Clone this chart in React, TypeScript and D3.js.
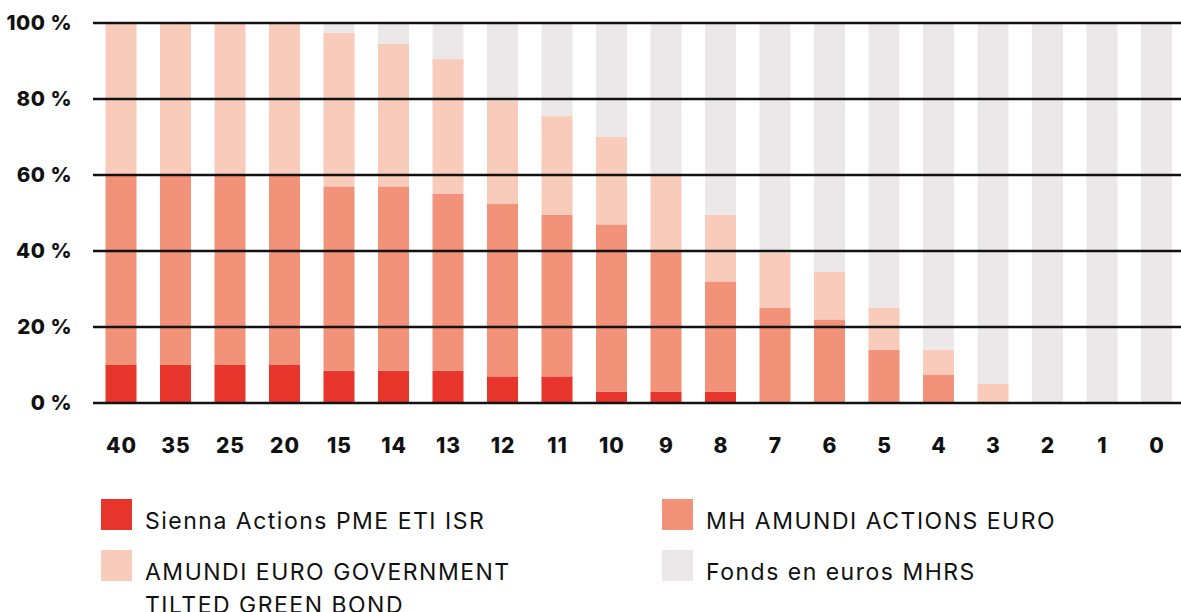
import React from 'react';
import * as d3 from 'd3';

// Horizon in years (x axis)
const horizons = ["40", "35", "25", "20", "15", "14", "13", "12", "11", "10", "9", "8", "7", "6", "5", "4", "3", "2", "1", "0"];

// Share of each fund in %
const sienna = [10, 10, 10, 10, 8.5, 8.5, 8.5, 7, 7, 3, 3, 3, 0, 0, 0, 0, 0, 0, 0, 0];
const mhAmundi = [50, 50, 50, 50, 48.5, 48.5, 46.5, 45.5, 42.5, 44, 37, 29, 25, 22, 14, 7.5, 0, 0, 0, 0];
const amundiGreen = [40, 40, 40, 40, 40.5, 37.5, 35.5, 27, 26, 23, 20, 17.5, 14.5, 12.5, 11, 6.5, 5, 0, 0, 0];
const fondsEuros = [0, 0, 0, 0, 2.5, 5.5, 9.5, 20.5, 24.5, 30, 40, 50.5, 60.5, 65.5, 75, 86, 95, 100, 100, 100];

const yTicks = [0, 20, 40, 60, 80, 100];

const seriesKeys = ["sienna", "mh", "amundi", "fonds"];
const seriesLabels = {
  sienna: ["Sienna Actions PME ETI ISR"],
  mh: ["MH AMUNDI ACTIONS EURO"],
  amundi: ["AMUNDI EURO GOVERNMENT", "TILTED GREEN BOND"],
  fonds: ["Fonds en euros MHRS"],
};
const colors = {
  sienna: "#E8352B",
  mh: "#F29278",
  amundi: "#F9CBBB",
  fonds: "#ECE8E9",
};

const W = 1181;
const H = 612;

const App = () => {
  const rows = horizons.map((h, i) => ({
    h,
    sienna: sienna[i],
    mh: mhAmundi[i],
    amundi: amundiGreen[i],
    fonds: fondsEuros[i],
  }));

  const stacked = d3.stack().keys(seriesKeys)(rows);

  const x = d3.scaleBand()
    .domain(horizons)
    .range([94.6, 1182.9])
    .paddingInner(0.431)
    .paddingOuter(0.2);

  const y = d3.scaleLinear().domain([0, 100]).range([403, 23]);

  const font = "Inter, 'DejaVu Sans', sans-serif";

  // legend positions
  const legend = [
    { key: "sienna", x: 101, y: 499 },
    { key: "mh", x: 662, y: 499 },
    { key: "amundi", x: 101, y: 550 },
    { key: "fonds", x: 662, y: 550 },
  ];

  return (
    <svg width={W} height={H} style={{ position: 'absolute', left: 0, top: 0, background: '#fff' }}>
      {stacked.map(s => (
        <g key={s.key} fill={colors[s.key]}>
          {s.map((d, i) => (
            d[1] - d[0] > 0 ? (
              <rect
                key={i}
                x={x(d.data.h)}
                width={x.bandwidth()}
                y={y(d[1])}
                height={y(d[0]) - y(d[1])}
              />
            ) : null
          ))}
        </g>
      ))}

      {yTicks.map(t => (
        <g key={t}>
          <line x1={93} x2={W} y1={y(t)} y2={y(t)} stroke="#111" strokeWidth={2.5} />
          <text
            x={72}
            y={y(t)}
            dy="0.35em"
            textAnchor="end"
            fontFamily={font}
            fontWeight={800}
            fontSize={20.5}
            letterSpacing={0.5}
            fill="#111"
          >
            {t} %
          </text>
        </g>
      ))}

      {horizons.map(h => (
        <text
          key={h}
          x={x(h) + x.bandwidth() / 2 + 0.5}
          y={453}
          textAnchor="middle"
          fontFamily={font}
          fontWeight={800}
          fontSize={21}
          letterSpacing={1}
          fill="#111"
        >
          {h}
        </text>
      ))}

      {legend.map(l => (
        <g key={l.key}>
          <rect x={l.x} y={l.y} width={31} height={31} fill={colors[l.key]} />
          {seriesLabels[l.key].map((line, j) => (
            <text
              key={j}
              x={l.x + 44}
              y={l.y + 30 + j * 33}
              fontFamily={font}
              fontSize={23}
              letterSpacing={1.5}
              fill="#111"
            >
              {line}
            </text>
          ))}
        </g>
      ))}
    </svg>
  );
};

export default App;
